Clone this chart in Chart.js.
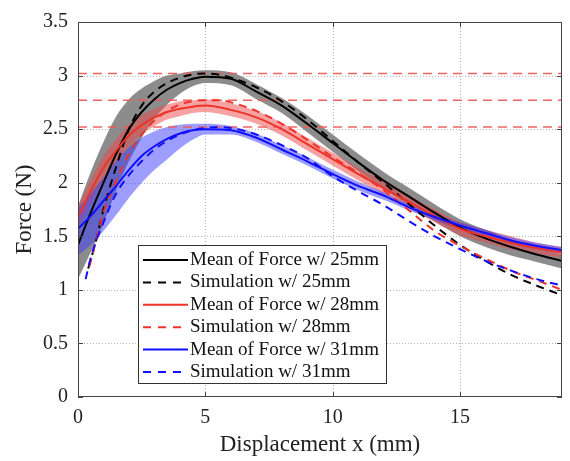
<!DOCTYPE html>
<html>
<head>
<meta charset="utf-8">
<script src="https://cdn.jsdelivr.net/npm/chart.js@4.4.1/dist/chart.umd.min.js"></script>
<style>
  html, body { margin: 0; padding: 0; background: #fff; }
  #wrap { width: 570px; height: 461px; }
</style>
</head>
<body>
<div id="wrap"><canvas id="myChart" width="570" height="461"></canvas></div>
<script>
// measured mean curves and bands (x in mm, force in N)
var meanX = [0, 0.5, 1, 1.5, 2, 2.5, 3, 3.5, 4, 4.5, 5, 6, 7, 8, 9, 10, 11, 12, 13, 14, 15, 16, 17, 18, 19];

var mean25 = [1.42, 1.72, 2.0, 2.27, 2.5, 2.66, 2.78, 2.87, 2.93, 2.97, 2.99, 2.97, 2.85, 2.72, 2.55, 2.37, 2.19, 2.02, 1.87, 1.72, 1.58, 1.48, 1.4, 1.33, 1.27];
var upper25 = [1.78, 2.1, 2.38, 2.62, 2.78, 2.88, 2.95, 3.0, 3.02, 3.04, 3.05, 3.03, 2.92, 2.79, 2.63, 2.45, 2.27, 2.1, 1.95, 1.8, 1.66, 1.56, 1.47, 1.4, 1.33];
var lower25 = [1.1, 1.35, 1.62, 1.93, 2.2, 2.42, 2.6, 2.73, 2.83, 2.9, 2.93, 2.91, 2.78, 2.65, 2.47, 2.29, 2.11, 1.94, 1.79, 1.64, 1.5, 1.4, 1.32, 1.26, 1.2];

var mean28 = [1.68, 1.92, 2.14, 2.3, 2.44, 2.54, 2.61, 2.66, 2.69, 2.71, 2.72, 2.68, 2.61, 2.5, 2.36, 2.22, 2.08, 1.95, 1.82, 1.69, 1.57, 1.5, 1.44, 1.39, 1.35];
var upper28 = [1.78, 2.03, 2.25, 2.41, 2.54, 2.63, 2.69, 2.73, 2.76, 2.77, 2.78, 2.74, 2.67, 2.56, 2.42, 2.28, 2.14, 2.01, 1.88, 1.75, 1.63, 1.56, 1.5, 1.44, 1.4];
var lower28 = [1.58, 1.81, 2.03, 2.19, 2.34, 2.45, 2.53, 2.59, 2.62, 2.65, 2.66, 2.62, 2.55, 2.44, 2.3, 2.16, 2.02, 1.89, 1.76, 1.63, 1.51, 1.44, 1.38, 1.34, 1.3];

var mean31 = [1.57, 1.69, 1.83, 1.97, 2.12, 2.25, 2.34, 2.41, 2.46, 2.49, 2.5, 2.49, 2.42, 2.31, 2.2, 2.08, 1.97, 1.88, 1.77, 1.68, 1.6, 1.53, 1.46, 1.41, 1.37];
var upper31 = [1.76, 1.9, 2.05, 2.2, 2.33, 2.42, 2.48, 2.52, 2.54, 2.55, 2.55, 2.53, 2.46, 2.35, 2.24, 2.12, 2.01, 1.91, 1.8, 1.71, 1.63, 1.56, 1.49, 1.44, 1.4];
var lower31 = [1.32, 1.42, 1.55, 1.7, 1.86, 2.0, 2.12, 2.22, 2.32, 2.4, 2.45, 2.45, 2.38, 2.27, 2.16, 2.04, 1.93, 1.84, 1.74, 1.65, 1.57, 1.5, 1.43, 1.38, 1.34];

// simulations
var simX25 = [0.4, 0.7, 1, 1.5, 2, 2.5, 3, 3.5, 4, 4.5, 5, 5.5, 6, 7, 8, 9, 10, 11, 12, 13, 14, 15, 16, 17, 18, 19];
var sim25 = [1.2, 1.45, 1.75, 2.15, 2.5, 2.72, 2.85, 2.93, 2.98, 3.01, 3.02, 3.01, 2.98, 2.89, 2.76, 2.59, 2.39, 2.19, 2.0, 1.8, 1.6, 1.42, 1.27, 1.14, 1.04, 0.95];
var simX28 = [0.45, 0.7, 1, 1.5, 2, 2.5, 3, 3.5, 4, 4.5, 5, 5.5, 6, 7, 8, 9, 10, 11, 12, 13, 14, 15, 16, 17, 18, 19];
var sim28 = [1.22, 1.45, 1.72, 2.02, 2.27, 2.45, 2.58, 2.67, 2.73, 2.76, 2.77, 2.77, 2.75, 2.67, 2.55, 2.4, 2.24, 2.09, 1.93, 1.74, 1.55, 1.41, 1.29, 1.18, 1.09, 1.0];
var simX31 = [0.3, 0.5, 1, 1.5, 2, 2.5, 3, 3.5, 4, 4.5, 5, 5.5, 6, 7, 8, 9, 10, 11, 12, 13, 14, 15, 16, 17, 18, 19];
var sim31 = [1.1, 1.3, 1.63, 1.9, 2.07, 2.2, 2.31, 2.39, 2.45, 2.49, 2.51, 2.52, 2.51, 2.45, 2.35, 2.23, 2.06, 1.92, 1.79, 1.64, 1.5, 1.38, 1.27, 1.18, 1.1, 1.04];

// peak reference lines
var peakLevels = [3.02, 2.77, 2.52];

var xTicks = [0, 5, 10, 15];
var yTicks = [0, 0.5, 1, 1.5, 2, 2.5, 3, 3.5];

var legendLabels = ['Mean of Force w/ 25mm', 'Simulation w/ 25mm', 'Mean of Force w/ 28mm',
    'Simulation w/ 28mm', 'Mean of Force w/ 31mm', 'Simulation w/ 31mm'];

var BLACK = '#000000';
var RED = '#ee3328';
var BLUE = '#1010ff';
var FONT = "'Liberation Serif', 'Times New Roman', serif";

function pts(xs, ys) {
    return xs.map(function (x, i) { return {x: x, y: ys[i]}; });
}

function band(xs, lo, hi, color, order) {
    return [{
        data: pts(xs, lo), borderWidth: 0, pointRadius: 0, fill: false, order: order,
        cubicInterpolationMode: 'monotone'
    }, {
        data: pts(xs, hi), borderWidth: 0, pointRadius: 0, fill: '-1', backgroundColor: color, order: order,
        cubicInterpolationMode: 'monotone'
    }];
}

function curve(xs, ys, color, dashed, order) {
    return {
        data: pts(xs, ys), borderColor: color, borderWidth: 2, pointRadius: 0, fill: false,
        borderDash: dashed ? [8, 6] : [], order: order, cubicInterpolationMode: 'monotone'
    };
}

var datasets = [];
datasets = datasets.concat(band(meanX, lower25, upper25, 'rgba(120,120,120,0.85)', 100));
datasets = datasets.concat(band(meanX, lower28, upper28, 'rgba(240,70,70,0.5)', 90));
datasets = datasets.concat(band(meanX, lower31, upper31, 'rgba(60,60,255,0.5)', 80));
peakLevels.forEach(function (v) {
    datasets.push({
        data: [{x: 0, y: v}, {x: 19, y: v}], borderColor: 'rgba(240,90,90,0.95)', borderWidth: 1.4,
        borderDash: [9, 6], pointRadius: 0, fill: false, order: 70
    });
});
var lineSets = [
    curve(meanX, mean25, BLACK, false, 60),
    curve(simX25, sim25, BLACK, true, 50),
    curve(meanX, mean28, RED, false, 40),
    curve(simX28, sim28, RED, true, 30),
    curve(meanX, mean31, BLUE, false, 20),
    curve(simX31, sim31, BLUE, true, 10)
];
datasets = datasets.concat(lineSets);

var frameAndLegend = {
    id: 'frameAndLegend',
    beforeDatasetsDraw: function (chart) {
        // dotted grid
        var ctx = chart.ctx, a = chart.chartArea;
        var xs = chart.scales.x, ys = chart.scales.y;
        ctx.save();
        ctx.strokeStyle = '#b4b4b4';
        ctx.lineWidth = 1;
        ctx.setLineDash([1, 2]);
        ctx.beginPath();
        xTicks.forEach(function (v) {
            if (v === 0) return;
            var p = Math.round(xs.getPixelForValue(v)) + 0.5;
            ctx.moveTo(p, a.top); ctx.lineTo(p, a.bottom);
        });
        yTicks.forEach(function (v) {
            if (v === 0 || v === 3.5) return;
            var p = Math.round(ys.getPixelForValue(v)) + 0.5;
            ctx.moveTo(a.left, p); ctx.lineTo(a.right, p);
        });
        ctx.stroke();
        ctx.restore();
    },
    afterDraw: function (chart) {
        var ctx = chart.ctx, a = chart.chartArea;
        var xs = chart.scales.x, ys = chart.scales.y;
        ctx.save();
        ctx.strokeStyle = '#444';
        ctx.lineWidth = 1;
        ctx.setLineDash([]);
        ctx.strokeRect(a.left + 0.5, a.top + 0.5, a.right - a.left - 1, a.bottom - a.top - 1);
        ctx.beginPath();
        xTicks.forEach(function (v) {
            var p = Math.round(xs.getPixelForValue(v)) + 0.5;
            ctx.moveTo(p, a.bottom); ctx.lineTo(p, a.bottom - 5);
            ctx.moveTo(p, a.top); ctx.lineTo(p, a.top + 5);
        });
        yTicks.forEach(function (v) {
            var p = Math.round(ys.getPixelForValue(v)) + 0.5;
            ctx.moveTo(a.left, p); ctx.lineTo(a.left + 5, p);
            ctx.moveTo(a.right, p); ctx.lineTo(a.right - 5, p);
        });
        ctx.stroke();

        // legend box
        var bx = 138, by = 245, bw = 248, bh = 138;
        ctx.fillStyle = '#fff';
        ctx.fillRect(bx, by, bw, bh);
        ctx.strokeStyle = '#333';
        ctx.strokeRect(bx + 0.5, by + 0.5, bw, bh);
        ctx.font = '19px ' + FONT;
        ctx.textBaseline = 'middle';
        ctx.textAlign = 'left';
        legendLabels.forEach(function (lab, i) {
            var ds = lineSets[i];
            var yy = 260 + i * 22.4;
            ctx.beginPath();
            ctx.strokeStyle = ds.borderColor;
            ctx.lineWidth = 2;
            ctx.setLineDash(ds.borderDash.length ? [8, 7] : []);
            ctx.moveTo(143, yy);
            ctx.lineTo(188, yy);
            ctx.stroke();
            ctx.setLineDash([]);
            ctx.fillStyle = '#111';
            ctx.fillText(lab, 190, yy);
        });
        ctx.restore();
    }
};

var ctx = document.getElementById('myChart');
var myChart = new Chart(ctx, {
    type: 'line',
    data: {datasets: datasets},
    options: {
        responsive: false,
        animation: false,
        layout: {padding: {top: 10, right: 8, left: 0, bottom: 0}},
        plugins: {legend: {display: false}, tooltip: {enabled: false}},
        scales: {
            x: {
                type: 'linear', min: 0, max: 19,
                afterBuildTicks: function (s) { s.ticks = xTicks.map(function (v) { return {value: v}; }); },
                afterFit: function (s) { s.height = 64; },
                ticks: {font: {family: FONT, size: 20}, color: '#222', padding: 9, maxRotation: 0,
                    callback: function (v) { return String(v); }},
                grid: {display: false, drawTicks: false},
                border: {display: false},
                title: {display: true, text: 'Displacement x (mm)', font: {family: FONT, size: 23}, color: '#222',
                    padding: {top: 0, bottom: 2}}
            },
            y: {
                type: 'linear', min: 0, max: 3.5,
                afterBuildTicks: function (s) { s.ticks = yTicks.map(function (v) { return {value: v}; }); },
                afterFit: function (s) { s.width = 78; },
                ticks: {font: {family: FONT, size: 20}, color: '#222', padding: 10,
                    callback: function (v) { return String(v); }},
                grid: {display: false, drawTicks: false},
                border: {display: false},
                title: {display: true, text: 'Force (N)', font: {family: FONT, size: 23}, color: '#222',
                    padding: {top: 11, bottom: 0}}
            }
        }
    },
    plugins: [frameAndLegend]
});
</script>
</body>
</html>
